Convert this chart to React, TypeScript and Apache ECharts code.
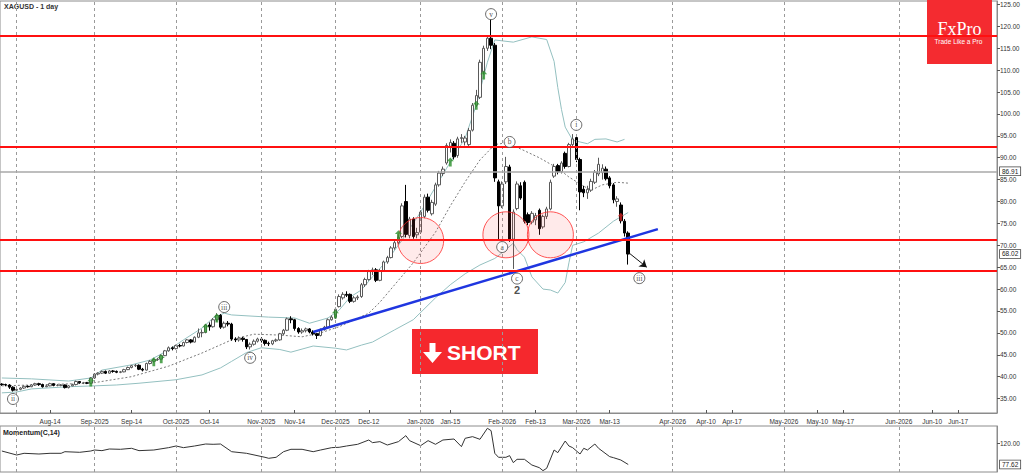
import React, { useEffect, useRef } from "react";
import * as echarts from "echarts";

// ---------- categories ----------
const FIRST_BAR = "2025-07-28";
const LAST_BAR = "2026-03-20";
const TOTAL_SLOTS = 269;

function fmt(d: Date) {
  return d.toISOString().slice(0, 10);
}
function buildCategories(): string[] {
  const out: string[] = [];
  const d = new Date(FIRST_BAR + "T00:00:00Z");
  const last = new Date(LAST_BAR + "T00:00:00Z").getTime();
  while (d.getTime() <= last) {
    const wd = d.getUTCDay();
    if (wd !== 0 && wd !== 6) out.push(fmt(d));
    d.setUTCDate(d.getUTCDate() + 1);
  }
  while (out.length < TOTAL_SLOTS) {
    out.push(fmt(d));
    d.setUTCDate(d.getUTCDate() + 1);
  }
  return out;
}
const categories = buildCategories();

const tickLabels: [string, string][] = [
  ["2025-08-14", "Aug-14"],
  ["2025-09-01", "Sep-2025"],
  ["2025-09-15", "Sep-14"],
  ["2025-10-01", "Oct-2025"],
  ["2025-10-14", "Oct-14"],
  ["2025-11-03", "Nov-2025"],
  ["2025-11-14", "Nov-14"],
  ["2025-12-01", "Dec-2025"],
  ["2025-12-12", "Dec-12"],
  ["2026-01-01", "Jan-2026"],
  ["2026-01-13", "Jan-15"],
  ["2026-02-02", "Feb-2026"],
  ["2026-02-13", "Feb-13"],
  ["2026-03-02", "Mar-2026"],
  ["2026-03-13", "Mar-13"],
  ["2026-04-01", "Apr-2026"],
  ["2026-04-10", "Apr-10"],
  ["2026-04-17", "Apr-17"],
  ["2026-05-01", "May-2026"],
  ["2026-05-10", "May-10"],
  ["2026-05-17", "May-17"],
  ["2026-06-01", "Jun-2026"],
  ["2026-06-10", "Jun-10"],
  ["2026-06-17", "Jun-17"],
];

const monthStarts = [
  "2025-08-01", "2025-09-01", "2025-10-01", "2025-11-03", "2025-12-01",
  "2026-01-01", "2026-02-02", "2026-03-02", "2026-04-01", "2026-05-01", "2026-06-01",
];

const priceTicks = [35, 40, 45, 50, 55, 60, 65, 70, 75, 80, 85, 90, 95, 100, 105, 110, 115, 120, 125];
const momentumTicks = [120];

// ---------- price data: [open, close, low, high] ----------
const ohlc: number[][] = [
  [38.3, 38.2, 37.9, 38.5], [38.2, 38.1, 37.8, 38.4], [38.1, 37.6, 37.2, 38.3], [37.6, 36.9, 36.6, 37.8],
  [36.9, 37.1, 36.7, 37.3], [37.1, 37.4, 36.9, 37.6], [37.4, 37.8, 37.2, 38.0], [37.8, 37.7, 37.5, 38.0],
  [37.7, 38.1, 37.6, 38.3], [38.1, 38.4, 37.9, 38.6], [38.4, 38.2, 37.9, 38.6], [38.2, 37.7, 37.5, 38.4],
  [37.7, 37.9, 37.6, 38.1], [37.9, 38.4, 37.8, 38.6], [38.4, 38.0, 37.8, 38.5], [38.0, 38.0, 37.8, 38.3],
  [38.0, 38.1, 37.8, 38.3], [38.1, 37.5, 37.3, 38.2], [37.5, 37.9, 37.3, 38.1], [37.9, 38.2, 37.8, 38.4],
  [38.2, 38.9, 38.0, 39.1], [38.9, 38.6, 38.4, 39.0], [38.6, 38.6, 38.3, 38.8], [38.6, 38.5, 38.3, 38.8],
  [38.5, 39.7, 38.4, 39.9], [39.7, 40.6, 39.5, 40.8], [40.6, 40.8, 40.3, 41.0], [40.8, 41.2, 40.6, 41.4],
  [41.2, 40.8, 40.6, 41.4], [40.8, 41.3, 40.7, 41.5], [41.3, 41.2, 40.9, 41.5], [41.2, 41.0, 40.8, 41.4],
  [41.0, 41.1, 40.8, 41.3], [41.1, 41.6, 41.0, 41.8], [41.6, 42.1, 41.5, 42.3], [42.1, 42.5, 41.9, 42.7],
  [42.5, 42.6, 42.2, 42.9], [42.6, 41.7, 41.5, 42.8], [41.7, 41.5, 41.2, 42.0], [41.5, 43.0, 41.4, 43.2],
  [43.0, 43.5, 42.8, 43.8], [43.5, 43.9, 43.2, 44.2], [43.9, 44.0, 43.6, 44.3], [44.0, 44.8, 43.9, 45.1],
  [44.8, 45.9, 44.7, 46.1], [45.9, 46.6, 45.7, 46.9], [46.6, 46.4, 46.0, 46.9], [46.4, 47.1, 46.2, 47.3],
  [47.1, 47.0, 46.7, 47.5], [47.0, 47.8, 46.9, 48.0], [47.8, 48.4, 47.6, 48.6], [48.4, 47.9, 47.6, 48.6],
  [47.9, 49.0, 47.8, 49.2], [49.0, 50.0, 48.8, 51.0], [50.0, 50.1, 49.0, 50.8], [50.1, 51.8, 49.9, 52.0],
  [51.8, 51.4, 50.5, 52.4], [51.4, 53.0, 51.2, 53.4], [53.0, 54.0, 52.6, 54.5], [54.0, 51.3, 50.9, 54.3],
  [51.3, 52.2, 51.0, 52.6], [52.2, 52.0, 51.5, 52.7], [52.0, 48.6, 48.2, 52.3], [48.6, 48.4, 47.9, 49.0],
  [48.4, 48.8, 48.0, 49.2], [48.8, 48.5, 48.0, 49.1], [48.5, 46.8, 46.3, 48.6], [46.8, 47.4, 46.2, 47.8],
  [47.4, 48.1, 47.1, 48.5], [48.1, 48.6, 47.8, 48.9], [48.6, 48.3, 47.8, 49.0], [48.3, 47.6, 47.1, 48.5],
  [47.6, 47.5, 47.0, 48.0], [47.5, 48.2, 47.2, 48.4], [48.2, 48.4, 47.9, 48.7], [48.4, 49.8, 48.2, 50.0],
  [49.8, 50.6, 49.5, 50.9], [50.6, 53.2, 50.4, 53.5], [53.2, 53.0, 52.2, 53.8], [53.0, 51.0, 50.5, 53.2],
  [51.0, 50.2, 49.8, 51.3], [50.2, 50.5, 49.8, 51.0], [50.5, 50.9, 50.1, 51.2], [50.9, 50.2, 49.9, 51.1],
  [50.2, 49.8, 49.4, 50.6], [49.8, 49.4, 48.6, 50.0], [49.4, 50.8, 49.2, 51.0], [50.8, 51.3, 50.5, 51.6],
  [51.3, 53.0, 51.1, 53.3], [53.0, 53.6, 52.8, 54.0], [53.6, 55.4, 53.2, 55.8], [56.0, 58.3, 55.8, 58.8],
  [58.0, 58.8, 57.6, 59.3], [58.8, 58.6, 58.2, 59.5], [58.8, 57.2, 56.8, 59.0], [57.2, 58.0, 56.9, 58.4],
  [58.0, 58.2, 57.5, 58.6], [58.3, 61.0, 58.0, 61.4], [61.0, 62.2, 60.5, 62.6], [62.2, 64.0, 61.9, 64.4],
  [64.0, 64.4, 63.2, 64.9], [64.4, 62.0, 61.6, 64.8], [62.0, 64.2, 61.8, 64.6], [64.2, 66.2, 64.0, 66.5],
  [66.2, 67.2, 65.8, 67.6], [67.2, 69.4, 67.0, 69.8], [69.4, 70.6, 69.0, 71.0], [70.6, 71.8, 70.2, 72.3],
  [72.0, 79.0, 71.6, 79.6], [80.0, 72.5, 71.8, 83.8], [72.2, 76.0, 71.6, 76.5], [76.0, 72.0, 71.5, 76.4],
  [72.4, 72.9, 71.6, 74.0], [73.0, 77.6, 72.6, 78.0], [76.6, 81.0, 76.2, 81.6], [81.0, 78.0, 77.5, 81.8],
  [77.2, 79.8, 76.8, 80.4], [79.4, 83.8, 79.0, 84.3], [83.8, 86.5, 83.4, 87.0], [86.4, 87.4, 85.8, 88.0],
  [88.8, 92.8, 88.4, 93.3], [92.6, 93.5, 91.2, 94.2], [93.3, 90.2, 89.6, 93.8], [90.5, 94.3, 90.0, 94.8],
  [94.4, 94.6, 93.4, 95.4], [93.6, 94.5, 92.8, 95.0], [93.0, 96.2, 92.5, 96.8], [96.3, 102.0, 96.0, 102.5],
  [102.0, 104.2, 101.6, 105.5], [103.8, 111.8, 103.4, 112.4], [109.6, 115.0, 109.0, 115.6], [115.0, 117.3, 114.4, 118.0],
  [117.3, 115.7, 114.8, 121.6], [115.7, 85.4, 84.5, 116.2], [84.5, 79.0, 71.4, 85.0], [79.0, 84.0, 78.5, 84.6],
  [84.5, 88.0, 84.0, 90.2], [87.9, 71.4, 70.8, 88.4], [71.4, 77.6, 64.6, 78.2], [78.4, 84.0, 78.0, 84.6],
  [83.6, 80.8, 80.4, 84.4], [84.4, 75.5, 75.0, 84.8], [77.0, 75.2, 74.6, 77.5], [75.3, 77.3, 74.8, 77.8],
  [75.8, 76.8, 74.6, 77.4], [78.0, 73.8, 72.4, 78.4], [74.2, 76.6, 73.8, 77.0], [76.6, 78.3, 76.0, 78.8],
  [78.3, 84.4, 78.0, 85.0], [85.8, 88.0, 85.4, 88.6], [88.2, 86.8, 86.2, 88.6], [86.8, 88.8, 86.4, 89.2],
  [91.0, 88.0, 87.5, 91.4], [88.0, 93.0, 87.8, 93.4], [93.0, 94.3, 92.5, 95.4], [94.6, 89.6, 89.0, 95.2],
  [89.6, 82.2, 78.0, 90.0], [82.8, 82.0, 81.0, 83.6], [82.0, 82.8, 80.6, 83.6], [82.6, 84.6, 82.2, 85.2],
  [84.4, 86.7, 84.0, 87.2], [86.3, 88.5, 85.8, 90.0], [86.6, 87.6, 85.0, 88.5], [87.4, 85.2, 84.8, 88.0],
  [85.4, 83.6, 83.0, 85.8], [83.8, 80.4, 79.6, 84.2], [80.0, 80.6, 78.8, 81.2], [79.2, 75.6, 75.0, 79.8],
  [75.5, 72.8, 72.0, 76.0], [72.8, 68.0, 65.6, 73.2],
];

// Bollinger bands: [bar index, value]
const bbUpper: number[][] = [
  [0, 39.7], [8, 39.5], [18, 39.0], [24, 39.7], [27, 41.5], [35, 42.7], [40, 43.8], [45, 46.1], [49, 48.4],
  [54, 51.1], [57, 53.4], [60, 54.5], [62, 54.1], [72, 53.6], [79, 53.4], [83, 52.2], [88, 53.4], [91, 55.2],
  [94, 58.2], [97, 59.8], [100, 62.8], [104, 66.6], [108, 71.2], [113, 77.6], [120, 87.6], [125, 94.5],
  [128, 102], [131, 111.8], [133, 116.9], [138, 116.4], [143, 117.6], [147, 117], [149, 112], [150, 106],
  [151, 101], [152, 97], [154, 94], [156, 93.6], [158, 93.2], [160, 94.2], [163, 94.3], [166, 93.6], [168, 94.2],
];
const bbLower: number[][] = [
  [0, 36.3], [4, 36.5], [8, 37.2], [18, 37.7], [25, 37.9], [31, 38.1], [37, 38.5], [47, 39.3], [54, 40.4],
  [59, 42.0], [62, 43.5], [66, 45.5], [70, 46.6], [75, 46.2], [78, 45.6], [84, 47.0], [90, 46.5], [93, 46.1],
  [97, 47.2], [100, 47.9], [106, 50.7], [111, 53], [117, 58], [121, 61], [125, 63.5], [129, 65.5], [133, 67],
  [136, 69], [138, 70.5], [139, 69], [141, 67.3], [143, 62.8], [146, 60], [148, 59.8], [150, 59.1], [152, 61.5],
  [153, 66], [154, 70], [157, 70.8], [161, 72.8], [165, 75.5], [167, 76.5], [169, 77.5],
];
const bbMiddle: number[][] = [
  [0, 37.9], [24, 38.5], [35, 40.0], [45, 42.4], [54, 45.4], [62, 48.4], [65, 49.1], [68, 49.7], [75, 49.5],
  [81, 49.1], [86, 50.0], [91, 51.4], [99, 54.5], [102, 57], [106, 61], [111, 66], [117, 73], [121, 79],
  [125, 84.5], [129, 89.5], [133, 93], [136, 93.4], [140, 92], [145, 90], [150, 87.6], [153, 85.6], [157, 83.5],
  [159, 82.6], [162, 83.8], [166, 84.4], [169, 84.2],
];

// Momentum(C,14): [bar index, value]
const momentum: number[][] = [
  [0, 104.6], [4, 96.6], [6, 100], [10, 98.6], [13, 100], [16, 100], [17, 103.2], [21, 102], [24, 104.6],
  [25, 106.6], [27, 105.3], [29, 108.6], [32, 108], [35, 110], [37, 105.3], [41, 106.6], [45, 111.3], [47, 114.6],
  [49, 111.3], [52, 114.6], [55, 118.6], [57, 118], [59, 118.6], [62, 103.2], [66, 100], [71, 92], [72, 90],
  [74, 92], [76, 103.2], [78, 108], [81, 108], [84, 103.2], [86, 106.6], [89, 111.3], [91, 112], [93, 114.6],
  [96, 118], [99, 126.6], [100, 121.3], [102, 123.3], [104, 116.6], [107, 123.3], [109, 135.3], [110, 125.3],
  [113, 115.3], [115, 125.3], [117, 118], [119, 126.6], [122, 128.6], [124, 113.3], [125, 130], [127, 133.3],
  [129, 128], [131, 150], [132, 145.3], [133, 100], [134, 92], [136, 92], [137, 95.3], [138, 81.3], [139, 88],
  [141, 88], [143, 76.6], [145, 71.3], [146, 65.3], [147, 70], [149, 106.6], [150, 101.3], [152, 124.6],
  [153, 114.6], [154, 111.3], [156, 98.6], [157, 110], [158, 106.6], [160, 118.6], [161, 110], [164, 93.3],
  [165, 91.3], [167, 86.6], [169, 77.62],
];

// Annotations
const redLevels = [117.8, 92.5, 71.2, 64.3];
const grayLevel = 86.91;
const lastPrice = 68.02;
const lastMomentum = 77.62;
const trendLine: number[][] = [[84, 50.2], [177, 73.7]];
const arrowFrom = [169, 68.4];
const arrowTo = [174, 65.0];
const circles: number[][] = [[113, 71.1], [136, 72.4], [148, 72.4]];
const waveLabels: [number, number, string][] = [
  [3, 34.9, "ii"], [60, 55.9, "iii"], [67, 44.3, "iv"], [132, 122.8, "v"], [135, 69.6, "a"],
  [137, 93.6, "b"], [139, 62.4, "c"], [155, 97.5, "i"], [172, 62.5, "iii"],
];
const waveNumber: [number, number, string][] = [[139, 59.7, "2"]];
const greenArrows: number[][] = [
  [24, 38.8], [41, 43.4], [43, 44.1], [55, 51.1], [58, 53.4], [90, 54.3], [107, 72.4], [121, 89.0], [128, 102], [130, 108.9],
];
const redMarks: number[][] = [[167, 76.5]];

const FONT = '"Liberation Sans", Arial, sans-serif';
const CLEAR = "rgba(0,0,0,0)";

function buildOption(): any {
  const labelMap = new Map(tickLabels);
  const monthLines = monthStarts.map((d) => ({ xAxis: d }));
  const priceBox = {
    show: true,
    position: "end",
    distance: 3,
    backgroundColor: "#fff",
    borderColor: "#444",
    borderWidth: 0.8,
    padding: [1, 2, 0, 2],
    fontSize: 6.5,
    fontFamily: FONT,
    color: "#222",
  };
  const gridLine = { color: "#9a9a9a", width: 1, type: [3, 3] };

  return {
    animation: false,
    backgroundColor: "#ffffff",
    grid: [
      { left: 0, top: 1, width: 997, height: 412, show: true, borderColor: "#8c8c8c", borderWidth: 1, backgroundColor: "transparent" },
      { left: 0, top: 426, width: 997, height: 46, show: true, borderColor: "#8c8c8c", borderWidth: 1, backgroundColor: "transparent" },
    ],
    xAxis: [
      {
        type: "category",
        gridIndex: 0,
        data: categories,
        boundaryGap: true,
        axisLine: { show: true, lineStyle: { color: "#8c8c8c" } },
        axisTick: {
          show: true,
          inside: true,
          length: 3,
          alignWithLabel: true,
          interval: (_i: number, v: string) => labelMap.has(v),
          lineStyle: { color: "#555" },
        },
        axisLabel: {
          interval: (_i: number, v: string) => labelMap.has(v),
          formatter: (v: string) => labelMap.get(v) || "",
          fontSize: 6.5,
          fontFamily: FONT,
          color: "#333",
          margin: 5,
        },
        splitLine: { show: false },
      },
      {
        type: "category",
        gridIndex: 1,
        data: categories,
        boundaryGap: true,
        axisLine: { show: false },
        axisTick: { show: false },
        axisLabel: { show: false },
        splitLine: { show: false },
      },
    ],
    yAxis: [
      {
        type: "value",
        gridIndex: 0,
        position: "right",
        min: 31.7,
        max: 125.8,
        axisLine: { show: true, lineStyle: { color: "#8c8c8c" } },
        axisTick: { show: true, length: 3, customValues: priceTicks, lineStyle: { color: "#555" } },
        axisLabel: {
          customValues: priceTicks,
          formatter: (v: number) => v.toFixed(2),
          fontSize: 6.5,
          fontFamily: FONT,
          color: "#333",
          margin: 3,
        },
        splitLine: { show: false },
      },
      {
        type: "value",
        gridIndex: 1,
        position: "right",
        min: 62.6,
        max: 154.6,
        axisLine: { show: true, lineStyle: { color: "#8c8c8c" } },
        axisTick: { show: true, length: 3, customValues: momentumTicks, lineStyle: { color: "#555" } },
        axisLabel: {
          customValues: momentumTicks,
          formatter: (v: number) => v.toFixed(2),
          fontSize: 6.5,
          fontFamily: FONT,
          color: "#333",
          margin: 3,
        },
        splitLine: { show: false },
      },
    ],
    series: [
      {
        name: "BB middle",
        type: "line",
        xAxisIndex: 0,
        yAxisIndex: 0,
        data: bbMiddle,
        showSymbol: false,
        silent: true,
        z: 1,
        lineStyle: { color: "#7a7a7a", width: 1, type: [2, 2] },
        markLine: {
          silent: true,
          symbol: ["none", "none"],
          label: { show: false },
          lineStyle: gridLine,
          data: monthLines,
        },
      },
      {
        name: "BB upper",
        type: "line",
        xAxisIndex: 0,
        yAxisIndex: 0,
        data: bbUpper,
        showSymbol: false,
        silent: true,
        z: 1,
        lineStyle: { color: "#94c0c0", width: 1 },
      },
      {
        name: "BB lower",
        type: "line",
        xAxisIndex: 0,
        yAxisIndex: 0,
        data: bbLower,
        showSymbol: false,
        silent: true,
        z: 1,
        lineStyle: { color: "#94c0c0", width: 1 },
      },
      {
        name: "XAGUSD",
        type: "candlestick",
        xAxisIndex: 0,
        yAxisIndex: 0,
        data: ohlc,
        barWidth: 3,
        z: 3,
        itemStyle: {
          color: "#ffffff",
          color0: "#000000",
          borderColor: "#5a5a5a",
          borderColor0: "#000000",
          borderWidth: 1,
        },
        markLine: {
          silent: true,
          symbol: ["none", "none"],
          label: { show: false },
          data: [
            ...redLevels.map((v) => ({ yAxis: v, lineStyle: { color: "#ff1010", width: 2, type: "solid" } })),
            { yAxis: grayLevel, lineStyle: { color: "#a8a8a8", width: 1.5, type: "solid" }, label: { ...priceBox, formatter: grayLevel.toFixed(2) } },
            { yAxis: lastPrice, lineStyle: { color: CLEAR, width: 1 }, label: { ...priceBox, formatter: lastPrice.toFixed(2) } },
          ],
        },
      },
      {
        name: "Trend",
        type: "line",
        xAxisIndex: 0,
        yAxisIndex: 0,
        data: trendLine,
        showSymbol: false,
        silent: true,
        z: 4,
        lineStyle: { color: "#1f36e0", width: 2.5 },
        markLine: {
          silent: true,
          symbol: ["none", "arrow"],
          symbolSize: 7,
          label: { show: false },
          lineStyle: { color: "#111", width: 1, type: "solid" },
          data: [[{ coord: arrowFrom }, { coord: arrowTo }]],
        },
      },
      {
        name: "Zones",
        type: "scatter",
        xAxisIndex: 0,
        yAxisIndex: 0,
        data: circles,
        symbol: "circle",
        symbolSize: 46,
        silent: true,
        z: 5,
        itemStyle: { color: "rgba(255,70,70,0.14)", borderColor: "#ff2a2a", borderWidth: 1 },
      },
      {
        name: "Signals",
        type: "scatter",
        xAxisIndex: 0,
        yAxisIndex: 0,
        data: greenArrows,
        symbol: "path://M5 0 L10 5 L7 5 L7 12 L3 12 L3 5 L0 5 Z",
        symbolSize: [7, 9],
        silent: true,
        z: 6,
        itemStyle: { color: "#2a8f2a" },
      },
      {
        name: "Marks",
        type: "scatter",
        xAxisIndex: 0,
        yAxisIndex: 0,
        data: redMarks,
        symbol: "path://M5 0 L10 5 L7 5 L7 12 L3 12 L3 5 L0 5 Z",
        symbolSize: [6, 8],
        silent: true,
        z: 6,
        itemStyle: { color: "#d02020" },
      },
      {
        name: "Waves",
        type: "scatter",
        xAxisIndex: 0,
        yAxisIndex: 0,
        data: waveLabels.map(([x, y, t]) => ({ value: [x, y], name: t })),
        symbol: "circle",
        symbolSize: 11,
        silent: true,
        z: 7,
        itemStyle: { color: "#ffffff", borderColor: "#444", borderWidth: 1 },
        label: {
          show: true,
          position: "inside",
          formatter: (p: any) => p.name,
          fontSize: 7.5,
          fontFamily: '"Liberation Serif", serif',
          color: "#222",
        },
      },
      {
        name: "Wave number",
        type: "scatter",
        xAxisIndex: 0,
        yAxisIndex: 0,
        data: waveNumber.map(([x, y, t]) => ({ value: [x, y], name: t })),
        symbolSize: 0,
        silent: true,
        z: 7,
        label: {
          show: true,
          position: "inside",
          formatter: (p: any) => p.name,
          fontSize: 11,
          fontWeight: "bold",
          fontFamily: FONT,
          color: "#222",
        },
      },
      {
        name: "Momentum(C,14)",
        type: "line",
        xAxisIndex: 1,
        yAxisIndex: 1,
        data: momentum,
        showSymbol: false,
        silent: true,
        lineStyle: { color: "#333", width: 1 },
        markLine: {
          silent: true,
          symbol: ["none", "none"],
          label: { show: false },
          data: [
            ...monthLines.map((m) => ({ ...m, lineStyle: gridLine })),
            { yAxis: lastMomentum, lineStyle: { color: CLEAR, width: 1 }, label: { ...priceBox, formatter: lastMomentum.toFixed(2) } },
          ],
        },
      },
    ],
    graphic: [
      {
        type: "text",
        left: 4,
        top: 3,
        style: { text: "XAGUSD - 1 day", font: `bold 7px ${FONT}`, fill: "#333" },
      },
      {
        type: "text",
        left: 3,
        top: 429,
        style: { text: "Momentum(C,14)", font: `bold 7px ${FONT}`, fill: "#222" },
      },
      {
        type: "group",
        z: 1,
        children: [
          { type: "rect", shape: { x: 927, y: 0, width: 65, height: 64 }, style: { fill: "#f42b30" } },
          {
            type: "text",
            x: 959.5,
            y: 29,
            style: { text: "FxPro", font: '18px "Liberation Serif", serif', fill: "#fff", align: "center", verticalAlign: "middle" },
          },
          {
            type: "text",
            x: 958.5,
            y: 41,
            style: { text: "Trade Like a Pro", font: `6.5px ${FONT}`, fill: "#fff", align: "center", verticalAlign: "middle" },
          },
        ],
      },
      {
        type: "group",
        z: 10,
        children: [
          { type: "rect", shape: { x: 412, y: 329, width: 126, height: 45 }, style: { fill: "#f5282d" } },
          {
            type: "polygon",
            shape: {
              points: [[429.5, 343], [435.5, 343], [435.5, 352], [442, 352], [432.5, 363], [423, 352], [429.5, 352]],
            },
            style: { fill: "#fff" },
          },
          {
            type: "text",
            x: 447,
            y: 352,
            style: { text: "SHORT", font: `bold 21px ${FONT}`, fill: "#fff", align: "left", verticalAlign: "middle" },
          },
        ],
      },
    ],
  };
}

export default function App() {
  const ref = useRef<HTMLDivElement>(null);
  useEffect(() => {
    if (!ref.current) return;
    const chart = echarts.init(ref.current, null, { renderer: "svg" });
    chart.setOption(buildOption());
    return () => chart.dispose();
  }, []);
  return (
    <div
      ref={ref}
      style={{ position: "absolute", left: 0, top: 0, width: 1024, height: 474, background: "#fff" }}
    />
  );
}
